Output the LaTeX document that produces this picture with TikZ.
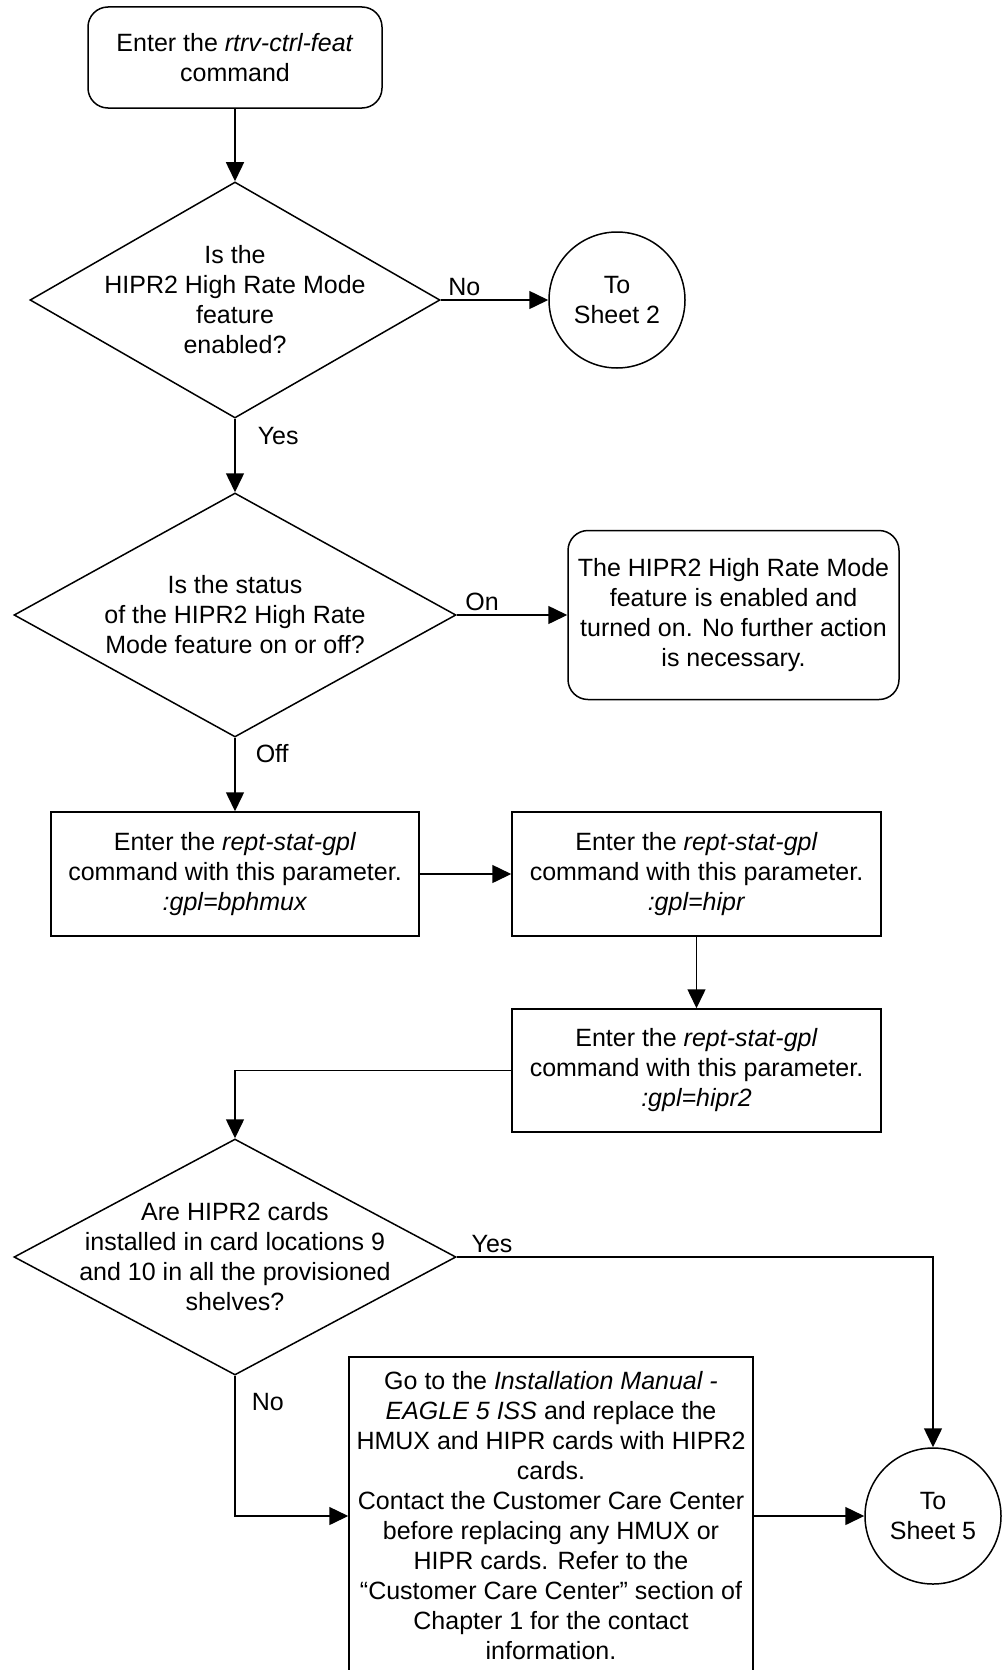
\documentclass[tikz,border=0pt]{standalone}
\usepackage{fontspec}
\setmainfont{Liberation Sans}
\usepackage{tikz}
\usetikzlibrary{arrows.meta,positioning,shapes.geometric}
\tikzset{
  line/.style={line width=1.5pt, line join=miter},
  edge/.style={line, -{Triangle[length=19pt,width=18pt]}},
  terminal/.style={
    draw, line width=1.5pt, rounded corners=20pt,
    align=center, inner sep=2pt,
    font=\fontsize{25}{30}\selectfont
  },
  process/.style={
    draw, line width=1.5pt,
    align=center, inner sep=2pt,
    font=\fontsize{25}{30}\selectfont
  },
  decision/.style={
    draw, line width=1.5pt, diamond, inner sep=-20pt,
    align=center,
    font=\fontsize{25}{30}\selectfont
  },
  sheet/.style={
    draw, line width=1.5pt, circle, minimum size=136pt, inner sep=0pt,
    align=center,
    font=\fontsize{25}{30}\selectfont
  },
  lbl/.style={font=\fontsize{25}{30}\selectfont, inner sep=4pt}
}

\begin{document}
\begin{tikzpicture}[x=1pt,y=-1pt]
\useasboundingbox (0,0) rectangle (1003,1670);

\node[terminal, minimum width=294pt, minimum height=101pt] (start) at (235,57.5)
  {Enter the \textit{rtrv-ctrl-feat}\\command};
\node[decision, aspect=1.74, minimum width=410pt, minimum height=236pt] (enabled) at (235,300)
  {Is the\\HIPR2 High Rate Mode\\feature\\enabled?};
\node[sheet] (sheettwo) at (617,300) {To\\Sheet 2};
\draw[edge] (start) -- (enabled);
\draw[edge] (enabled.east) -- node[lbl, above, pos=0.22] {No} (sheettwo);

\node[decision, aspect=1.81, minimum width=442pt, minimum height=244pt] (status) at (235,615)
  {Is the status\\of the HIPR2 High Rate\\Mode feature on or off?};
\node[terminal, minimum width=331pt, minimum height=169pt] (done) at (733.5,615)
  {The HIPR2 High Rate Mode\\feature is enabled and\\turned on. No further action\\is necessary.};
\draw[edge] (enabled.south) -- node[lbl, right=18pt, pos=0.23] {Yes} (status.north);
\draw[edge] (status.east) -- node[lbl, above, pos=0.23] {On} (done.west);

\node[process, minimum width=368pt, minimum height=124pt] (gplbp) at (235,874)
  {Enter the \textit{rept-stat-gpl}\\command with this parameter.\\\textit{:gpl=bphmux}};
\node[process, minimum width=369pt, minimum height=124pt] (gplhipr) at (696.5,874)
  {Enter the \textit{rept-stat-gpl}\\command with this parameter.\\\textit{:gpl=hipr}};
\node[process, minimum width=369pt, minimum height=123pt] (gplhiprtwo) at (696.5,1070.5)
  {Enter the \textit{rept-stat-gpl}\\command with this parameter.\\\textit{:gpl=hipr2}};
\draw[edge] (status.south) -- node[lbl, right=16pt, pos=0.21] {Off} (gplbp.north);
\draw[edge] (gplbp) -- (gplhipr);
\draw[edge] (gplhipr) -- (gplhiprtwo);

\node[decision, aspect=1.87, minimum width=442pt, minimum height=236pt] (installed) at (235,1257)
  {Are HIPR2 cards\\installed in card locations 9\\and 10 in all the provisioned\\shelves?};
\node[process, minimum width=404pt, minimum height=318pt] (replace) at (551,1516)
  {Go to the \textit{Installation Manual -}\\\textit{EAGLE 5 ISS} and replace the\\HMUX and HIPR cards with HIPR2\\cards.\\Contact the Customer Care Center\\before replacing any HMUX or\\HIPR cards. Refer to the\\“Customer Care Center” section of\\Chapter 1 for the contact\\information.};
\node[sheet] (sheetfive) at (933,1516) {To\\Sheet 5};
\draw[edge] (gplhiprtwo.west) -| (installed.north);
\draw[edge] (installed.east) -| node[lbl, above, pos=0.037] {Yes} (sheetfive.north);
\draw[edge] (installed.south) |- node[lbl, right=12pt, pos=0.094] {No} (replace.west);
\draw[edge] (replace.east) -- (sheetfive.west);
\end{tikzpicture}
\end{document}
